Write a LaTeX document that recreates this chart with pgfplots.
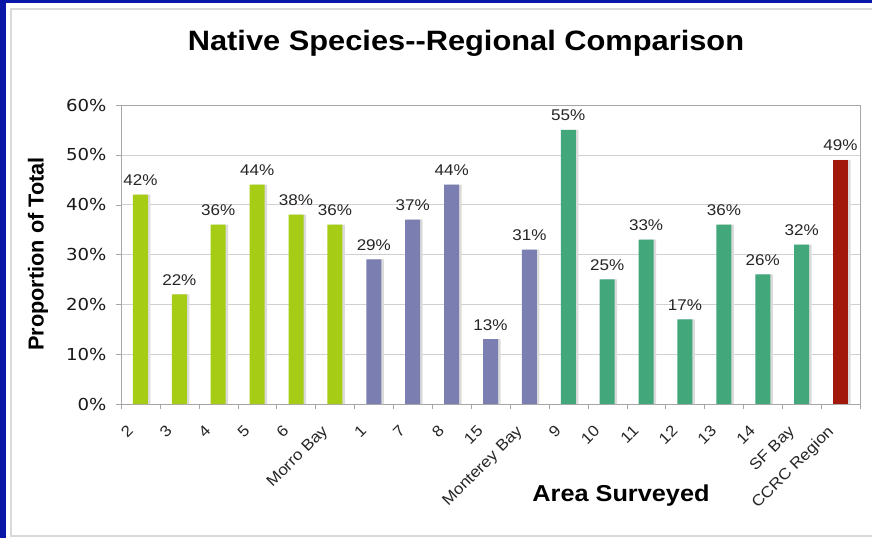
\documentclass[border=0pt]{standalone}
\usepackage{fontspec}
\setmainfont{Liberation Sans}[FakeStretch=1.1]
\newfontfamily\plainsans{Liberation Sans}
\newfontfamily\tickfont{DejaVu Sans}[FakeStretch=1.1]
\usepackage{pgfplots}
\usepackage{pgfplotstable}
\pgfplotsset{compat=1.18}

\definecolor{framebl}{HTML}{0A16A8}
\definecolor{limebar}{HTML}{A6CC16}
\definecolor{slatebar}{HTML}{7A7EB0}
\definecolor{tealbar}{HTML}{42A77A}
\definecolor{redbar}{HTML}{A2180A}

% share of native species per surveyed area (percent)
\pgfplotstableread{
x y
0 42
1 22
2 36
3 44
4 38
5 36
6 29
7 37
8 44
9 13
10 31
11 55
12 25
13 33
14 17
15 36
16 26
17 32
18 49
}\survey

\begin{document}
\begin{tikzpicture}[x=1pt,y=1pt]
\path[use as bounding box] (-121,-134) rectangle (751,404);
\fill[white] (-121,-134) rectangle (751,404);
\draw[black!15, line width=1.2pt] (-110,-132) rectangle (780,395);
\fill[framebl] (-121,-134) rectangle (-115,404);
\fill[framebl] (-121,401) rectangle (751,404);

\begin{axis}[
  at={(0,0)}, anchor=south west,
  scale only axis, width=739pt, height=299pt,
  xmin=-0.5, xmax=18.5, ymin=0, ymax=60,
  ybar, bar width=15pt,
  axis line style={black!35},
  ymajorgrids, major grid style={black!18},
  tick pos=left, tick align=outside,
  tick style={black!35},
  major tick length=5pt, minor tick length=5pt,
  ytick={0,10,...,60},
  yticklabel={\pgfmathprintnumber{\tick}\%},
  /pgf/number format/assume math mode=true,
  yticklabel style={font=\tickfont\fontsize{16.5}{18}\selectfont, text=black!90, xshift=-6pt},
  xtick={0,...,18},
  xticklabels={2,3,4,5,6,Morro Bay,1,7,8,15,Monterey Bay,9,10,11,12,13,14,SF Bay,CCRC Region},
  major x tick style={draw=none},
  minor xtick={-0.5,0.5,...,18.5},
  xticklabel style={rotate=45, anchor=north east, font=\fontsize{15.5}{17}\selectfont, text=black!85, xshift=-17.5pt, yshift=2.5pt},
  every node near coord/.append style={font=\fontsize{15.5}{17}\selectfont, text=black!85, anchor=base, yshift=9pt},
]
% soft shadow behind every bar
\addplot[fill=black!14, draw=none, bar shift=2.5pt, forget plot] table[x=x,y=y]{\survey};
\addplot[fill=limebar, draw=none, bar shift=0pt, restrict x to domain=0:5,
  nodes near coords={\pgfmathprintnumber{\pgfplotspointmeta}\%}] table[x=x,y=y]{\survey};
\addplot[fill=slatebar, draw=none, bar shift=0pt, restrict x to domain=6:10,
  nodes near coords={\pgfmathprintnumber{\pgfplotspointmeta}\%}] table[x=x,y=y]{\survey};
\addplot[fill=tealbar, draw=none, bar shift=0pt, restrict x to domain=11:17,
  nodes near coords={\pgfmathprintnumber{\pgfplotspointmeta}\%}] table[x=x,y=y]{\survey};
\addplot[fill=redbar, draw=none, bar shift=0pt, restrict x to domain=18:18,
  nodes near coords={\pgfmathprintnumber{\pgfplotspointmeta}\%}] table[x=x,y=y]{\survey};
\end{axis}

\node[font=\bfseries\fontsize{28}{32}\selectfont] at (345,361) {Native Species-{}-Regional Comparison};
\node[font=\plainsans\bfseries\fontsize{21.7}{24}\selectfont, rotate=90] at (-83,150) {Proportion of Total};
\node[font=\bfseries\fontsize{23}{26}\selectfont] at (500,-92) {Area Surveyed};
\end{tikzpicture}
\end{document}
